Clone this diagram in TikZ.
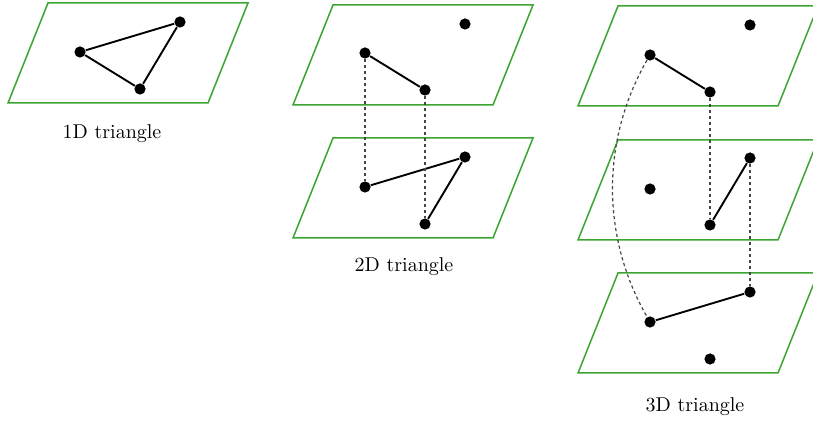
\documentclass[tikz,border=0pt]{standalone}
\definecolor{planegreen}{RGB}{60,165,50}
\definecolor{dashgray}{RGB}{70,70,70}
\begin{document}
\begin{tikzpicture}[x=0.5pt,y=-0.5pt,
  plane/.style={draw=planegreen,line width=0.75pt},
  dot/.style={circle,fill=black,inner sep=0pt,minimum size=5.6pt},
  edge/.style={line width=0.95pt,black},
  link/.style={draw=dashgray,line width=0.6pt,dash pattern=on 1.6pt off 1.4pt},
  lbl/.style={font=\normalsize,inner sep=0pt}]
\clip (0,0) rectangle (813,421);
% planes: top-left corner given, width 200, height 100, skew 40
\foreach \px/\py in {48/3, 333/5, 333/138, 618/6, 618/140, 618/273}{
  \draw[plane] (\px,\py) -- ++(200,0) -- ++(-40,100) -- ++(-200,0) -- cycle;
}
% 1D triangle
\node[dot] (a1) at (80,52) {};
\node[dot] (a2) at (180,22) {};
\node[dot] (a3) at (140,89) {};
\draw[edge] (a1) -- (a2) -- (a3) -- (a1);
\node[lbl] (l1) at (112,134) {1D triangle};
% 2D triangle
\node[dot] (b1) at (365,53) {};
\node[dot] (b2) at (425,90) {};
\node[dot] (b3) at (465,24) {};
\node[dot] (c1) at (365,187) {};
\node[dot] (c2) at (425,224) {};
\node[dot] (c3) at (465,157) {};
\draw[edge] (b1) -- (b2);
\draw[edge] (c1) -- (c3) -- (c2);
\draw[link] (b1) -- (c1);
\draw[link] (b2) -- (c2);
\node[lbl] (l2) at (404,267) {2D triangle};
% 3D triangle
\node[dot] (d1) at (650,55) {};
\node[dot] (d2) at (710,92) {};
\node[dot] (d3) at (750,25) {};
\node[dot] (e1) at (650,189) {};
\node[dot] (e2) at (710,225) {};
\node[dot] (e3) at (750,158) {};
\node[dot] (f1) at (650,322) {};
\node[dot] (f2) at (710,359) {};
\node[dot] (f3) at (750,292) {};
\draw[edge] (d1) -- (d2);
\draw[edge] (e2) -- (e3);
\draw[edge] (f1) -- (f3);
\draw[link] (d2) -- (e2);
\draw[link] (e3) -- (f3);
\draw[link] (d1) .. controls (601,140) and (601,237) .. (f1);
\node[lbl] (l3) at (695,407) {3D triangle};
\end{tikzpicture}
\end{document}
